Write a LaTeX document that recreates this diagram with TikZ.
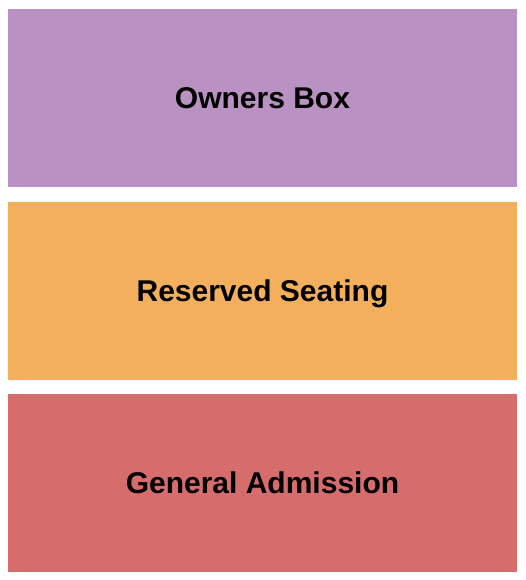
\documentclass[tikz,border=0pt]{standalone}
\usepackage{fontspec}
\setmainfont{Liberation Sans}

\definecolor{ownerscol}{RGB}{186,145,195}
\definecolor{reservedcol}{RGB}{243,175,91}
\definecolor{generalcol}{RGB}{215,108,109}

\tikzset{section/.style={minimum width=509pt, minimum height=178pt, inner sep=0pt,
  text height=21.5pt, text depth=0pt,
  font=\fontsize{30}{36}\selectfont\bfseries, text=black}}

\begin{document}
\begin{tikzpicture}[x=1pt,y=-1pt]

\useasboundingbox (0,0) rectangle (525,580);

\node[section, fill=ownerscol] (owners) at (262.5,98) {Owners Box};
\node[section, fill=reservedcol] (reserved) at (262.5,290.5) {Reserved Seating};
\node[section, fill=generalcol] (general) at (262.5,482.5) {General Admission};

\end{tikzpicture}
\end{document}
